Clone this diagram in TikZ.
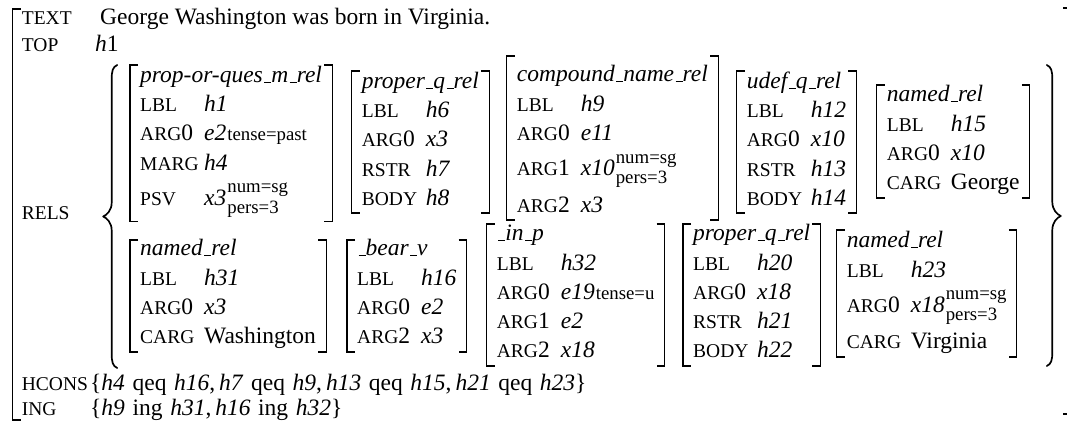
\documentclass[tikz,border=0pt]{standalone}
\usepackage{fontspec}
\setmainfont{Liberation Serif}
\usetikzlibrary{calc}

% feature names in (scaled) small capitals
\newcommand\fsc[1]{{\fontsize{19.5}{19.5}\selectfont\MakeUppercase{#1}}}
% low underscore as in relation names
\newcommand\us{\kern.06em\rule{.3em}{0.9pt}}
\newcommand\vi[1]{\textit{#1}}
% fixed-width feature column
\newcommand\feat[1]{\makebox[64pt][l]{#1}}
% small property annotation on the baseline
\newcommand\tns[1]{\kern1pt{\fontsize{18.8}{18.8}\selectfont #1}}
% stacked agreement properties
\newcommand\agr[2]{{\fontsize{18.8}{18.8}\selectfont
  \setbox0\hbox{#1}\setbox2\hbox{#2}%
  \ifdim\wd0>\wd2 \dimen0=\wd0 \else \dimen0=\wd2 \fi
  \kern1pt\rlap{\raise12.5pt\box0}\rlap{\lower8pt\box2}\kern\dimen0}}
% taller row for stacked properties
\newcommand\sr{\rule[-16pt]{0pt}{42.5pt}}
% word space inside the constraint sets
\newcommand\wsp{\hspace{0.325em}}

% one relation: name, left bracket x, first baseline, bracket top, bracket bottom, rows
\newcommand\avm[6]{%
  \node[anchor=base west] (#1) at (#2+10, #3)
    {\begin{tabular}[t]{@{}l@{}l@{}}#6\end{tabular}};
  \coordinate (#1-tl) at (#2, #4);
  \coordinate (#1-bl) at (#2, #5);
  \coordinate (#1-r) at ([xshift=10pt]#1.east);
  \draw[brk] (#1-tl) +(8pt,0) -- (#1-tl) -- (#1-bl) -- +(8pt,0);
  \draw[brk] (#1-r |- #1-tl) +(-8pt,0) -- (#1-r |- #1-tl) -- (#1-r |- #1-bl) -- +(-8pt,0);
}

% curly brace: stem x, top, middle, bottom, hook direction (+1 right, -1 left)
\newcommand\curlybrace[5]{%
  \draw[brc] ({#1+5.5*(#5)}, #2) .. controls ({#1+1*(#5)}, {#2+2}) and (#1, {#2+6}) .. (#1, {#2+14})
    -- (#1, {#3-14}) .. controls (#1, {#3-6}) and ({#1-5*(#5)}, {#3-1.5}) .. ({#1-8.5*(#5)}, #3)
    .. controls ({#1-5*(#5)}, {#3+1.5}) and (#1, {#3+6}) .. (#1, {#3+14})
    -- (#1, {#4-14}) .. controls (#1, {#4-6}) and ({#1+1*(#5)}, {#4-2}) .. ({#1+5.5*(#5)}, #4);}

\begin{document}
\begin{tikzpicture}[x=1pt, y=-1pt,
  every node/.style={inner sep=0pt, font=\fontsize{23.5}{29.2}\selectfont},
  brk/.style={line width=1.1pt},
  brc/.style={line width=1.7pt, line cap=round, line join=round}]
\useasboundingbox (0,0) rectangle (1067,427);
\clip (0,0) rectangle (1067,427);

% outer brackets
\coordinate (ob-t) at (12.7,9);
\coordinate (ob-b) at (12.7,420);
\draw[brk] (ob-t) +(8,0) -- (ob-t) -- (ob-b) -- +(8,0);
\coordinate (oc-t) at (1071,8);
\coordinate (oc-b) at (1071,414);
\draw[brk] (oc-t) +(-8,0) -- (oc-t) -- (oc-b) -- +(-8,0);

% top-level features
\node[anchor=base west] (lText) at (21.7,25) {\fsc{text}};
\node[anchor=base west] (vText) at (100,25) {George Washington was born in Virginia.};
\node[anchor=base west] (lTop) at (21.7,51.5) {\fsc{top}};
\node[anchor=base west] (vTop) at (95,51.5) {\textit{h}1};
\node[anchor=base west] (lRels) at (21.7,220) {\fsc{rels}};
\node[anchor=base west] (lHcons) at (21.7,390) {\fsc{hcons}};
\node[anchor=base west] (vHcons) at (90,390)
  {\{\vi{h4}\wsp qeq\wsp\vi{h16},\,\vi{h7}\wsp qeq\wsp\vi{h9},\,\vi{h13}\wsp qeq\wsp\vi{h15},\,\vi{h21}\wsp qeq\wsp\vi{h23}\}};
\node[anchor=base west] (lIng) at (21.7,415) {\fsc{ing}};
\node[anchor=base west] (vIng) at (90,415) {\{\vi{h9}\wsp ing\wsp\vi{h31},\,\vi{h16}\wsp ing\wsp\vi{h32}\}};

% list braces
\curlybrace{111.7}{65}{216.5}{368}{1}
\curlybrace{1052.3}{65}{216}{366}{-1}

% first row of relations
\avm{relA}{130}{82.5}{65}{221.7}{%
  \multicolumn{2}{@{}l@{}}{\vi{prop-or-ques\us m\us rel}}\\
  \feat{\fsc{lbl}} & \vi{h1}\\
  \feat{\fsc{arg}0} & \vi{e2}\tns{tense=past}\\
  \feat{\fsc{marg}} & \vi{h4}\\
  \feat{\fsc{psv}} & \vi{x3}\agr{num=sg}{pers=3}\sr}
\avm{relB}{351.7}{88.5}{71}{213}{%
  \multicolumn{2}{@{}l@{}}{\vi{proper\us q\us rel}}\\
  \feat{\fsc{lbl}} & \vi{h6}\\
  \feat{\fsc{arg}0} & \vi{x3}\\
  \feat{\fsc{rstr}} & \vi{h7}\\
  \feat{\fsc{body}} & \vi{h8}}
\avm{relC}{506.7}{82}{56}{220}{%
  \multicolumn{2}{@{}l@{}}{\vi{compound\us name\us rel}}\\
  \feat{\fsc{lbl}} & \vi{h9}\\
  \feat{\fsc{arg}0} & \vi{e11}\\
  \feat{\fsc{arg}1} & \vi{x10}\agr{num=sg}{pers=3}\sr\\
  \feat{\fsc{arg}2} & \vi{x3}}
\avm{relD}{736.7}{88.5}{71}{213}{%
  \multicolumn{2}{@{}l@{}}{\vi{udef\us q\us rel}}\\
  \feat{\fsc{lbl}} & \vi{h12}\\
  \feat{\fsc{arg}0} & \vi{x10}\\
  \feat{\fsc{rstr}} & \vi{h13}\\
  \feat{\fsc{body}} & \vi{h14}}
\avm{relE}{876.7}{102}{85}{198}{%
  \multicolumn{2}{@{}l@{}}{\vi{named\us rel}}\\
  \feat{\fsc{lbl}} & \vi{h15}\\
  \feat{\fsc{arg}0} & \vi{x10}\\
  \feat{\fsc{carg}} & George}

% second row of relations
\avm{relF}{130}{256}{240}{352}{%
  \multicolumn{2}{@{}l@{}}{\vi{named\us rel}}\\
  \feat{\fsc{lbl}} & \vi{h31}\\
  \feat{\fsc{arg}0} & \vi{x3}\\
  \feat{\fsc{carg}} & Washington}
\avm{relG}{347}{256}{240}{352}{%
  \multicolumn{2}{@{}l@{}}{\vi{\us bear\us v}}\\
  \feat{\fsc{lbl}} & \vi{h16}\\
  \feat{\fsc{arg}0} & \vi{e2}\\
  \feat{\fsc{arg}2} & \vi{x3}}
\avm{relH}{486.7}{241}{224}{366}{%
  \multicolumn{2}{@{}l@{}}{\vi{\us in\us p}}\\
  \feat{\fsc{lbl}} & \vi{h32}\\
  \feat{\fsc{arg}0} & \vi{e19}\tns{tense=u}\\
  \feat{\fsc{arg}1} & \vi{e2}\\
  \feat{\fsc{arg}2} & \vi{x18}}
\avm{relI}{683}{241}{224}{366}{%
  \multicolumn{2}{@{}l@{}}{\vi{proper\us q\us rel}}\\
  \feat{\fsc{lbl}} & \vi{h20}\\
  \feat{\fsc{arg}0} & \vi{x18}\\
  \feat{\fsc{rstr}} & \vi{h21}\\
  \feat{\fsc{body}} & \vi{h22}}
\avm{relJ}{836.7}{248}{230}{357}{%
  \multicolumn{2}{@{}l@{}}{\vi{named\us rel}}\\
  \feat{\fsc{lbl}} & \vi{h23}\\
  \feat{\fsc{arg}0} & \vi{x18}\agr{num=sg}{pers=3}\sr\\
  \feat{\fsc{carg}} & Virginia}
\end{tikzpicture}
\end{document}
